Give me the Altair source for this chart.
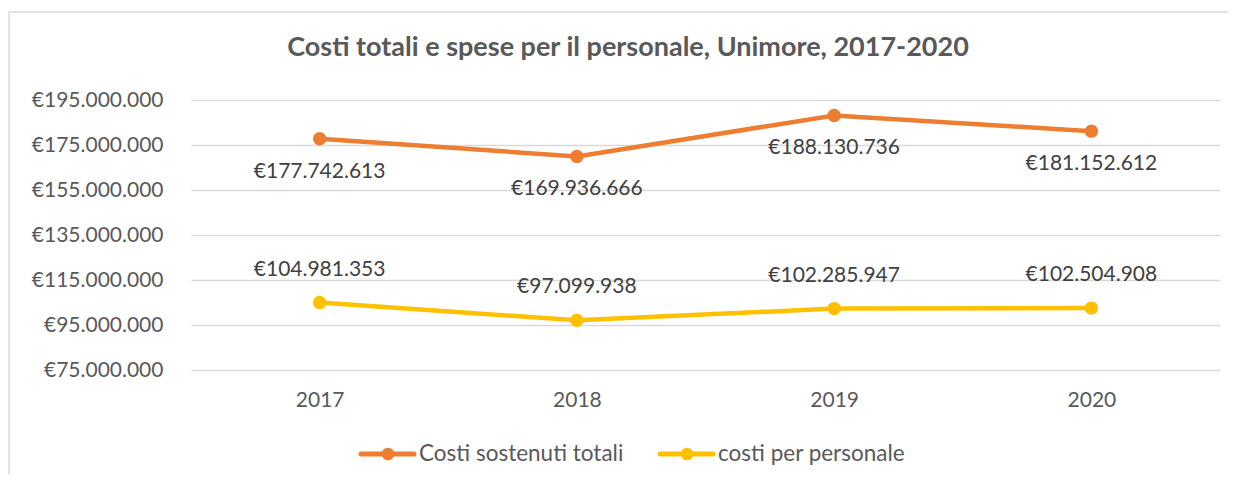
import altair as alt
import pandas as pd

years = ["2017", "2018", "2019", "2020"]
costi_totali = [177742613, 169936666, 188130736, 181152612]
costi_personale = [104981353, 97099938, 102285947, 102504908]
series_names = ["Costi sostenuti totali", "costi per personale"]
series_colors = ["#ED7D31", "#FFC000"]
title_text = "Costi totali e spese per il personale, Unimore, 2017-2020"
y_ticks = [75000000, 95000000, 115000000, 135000000, 155000000, 175000000, 195000000]

rows = []
for i, yr in enumerate(years):
    rows.append({"anno": yr, "serie": series_names[0], "valore": costi_totali[i]})
    rows.append({"anno": yr, "serie": series_names[1], "valore": costi_personale[i]})
df = pd.DataFrame(rows)

FONT = "Lato"
AX_COL = "#595959"

x_enc = alt.X(
    "anno:O",
    scale=alt.Scale(type="point", padding=0.5),
    axis=alt.Axis(title=None, labelAngle=0, labelFontSize=21, labelColor=AX_COL,
                  labelFont=FONT, ticks=False, domain=False, labelPadding=19, grid=False),
)
y_enc = alt.Y(
    "valore:Q",
    scale=alt.Scale(domain=[75000000, 195000000], nice=False, zero=False),
    axis=alt.Axis(title=None, values=y_ticks, format="$,.0f", labelFontSize=21,
                  labelColor=AX_COL, labelFont=FONT, ticks=False, domain=False,
                  labelPadding=28, gridColor="#D9D9D9", gridWidth=1.5),
)
color_enc = alt.Color("serie:N", scale=alt.Scale(domain=series_names, range=series_colors),
                      legend=None)

base = alt.Chart(df)

lines = base.mark_line(strokeWidth=4.5).encode(x=x_enc, y=y_enc, color=color_enc)
points = base.mark_circle(size=180, opacity=1).encode(x=x_enc, y=y_enc, color=color_enc)
labels_top = base.transform_filter(alt.datum.serie == series_names[0]).mark_text(
    dy=33, fontSize=21, font=FONT, color="#404040"
).encode(x=x_enc, y=y_enc, text=alt.Text("valore:Q", format="$,.0f"))
labels_bot = base.transform_filter(alt.datum.serie == series_names[1]).mark_text(
    dy=-33, fontSize=21, font=FONT, color="#404040"
).encode(x=x_enc, y=y_enc, text=alt.Text("valore:Q", format="$,.0f"))

title = alt.Chart(pd.DataFrame({"t": [title_text]})).mark_text(
    fontSize=27, fontWeight="bold", font=FONT, color=AX_COL
).encode(x=alt.value(437), y=alt.value(-52), text="t:N")

frame = alt.Chart(pd.DataFrame({"f": [0]})).mark_rect(
    fillOpacity=0, stroke="#D9D9D9", strokeWidth=1.5
).encode(x=alt.value(-182), x2=alt.value(1200), y=alt.value(-88), y2=alt.value(500))

# legend (line + marker symbol, as in the original)
legend_layers = []
LEG_Y = 354
for i, name in enumerate(series_names):
    ox = 168 + 299 * i
    d = pd.DataFrame({"serie": [name]})
    legend_layers.append(
        alt.Chart(d).mark_rule(color=series_colors[i], strokeWidth=5, strokeCap="round")
        .encode(x=alt.value(ox + 2), x2=alt.value(ox + 55), y=alt.value(LEG_Y))
    )
    legend_layers.append(
        alt.Chart(d).mark_circle(color=series_colors[i], size=160, opacity=1)
        .encode(x=alt.value(ox + 29), y=alt.value(LEG_Y))
    )
    legend_layers.append(
        alt.Chart(d).mark_text(align="left", baseline="middle", fontSize=22.5, font=FONT,
                               color=AX_COL)
        .encode(x=alt.value(ox + 60), y=alt.value(LEG_Y), text="serie:N")
    )

chart = alt.layer(frame, title, lines, points, labels_top, labels_bot, *legend_layers).properties(
    width=1029, height=270,
    padding={"left": 183, "top": 92, "right": 8, "bottom": 104},
    autosize=alt.AutoSizeParams(type="none"),
    background="white",
).configure(
    locale={"number": {"decimal": ",", "thousands": ".", "grouping": [3],
                       "currency": ["€", ""]}}
).configure_view(stroke=None, strokeWidth=0)

chart.save("out.html", embed_options={"renderer": "svg", "actions": False})
